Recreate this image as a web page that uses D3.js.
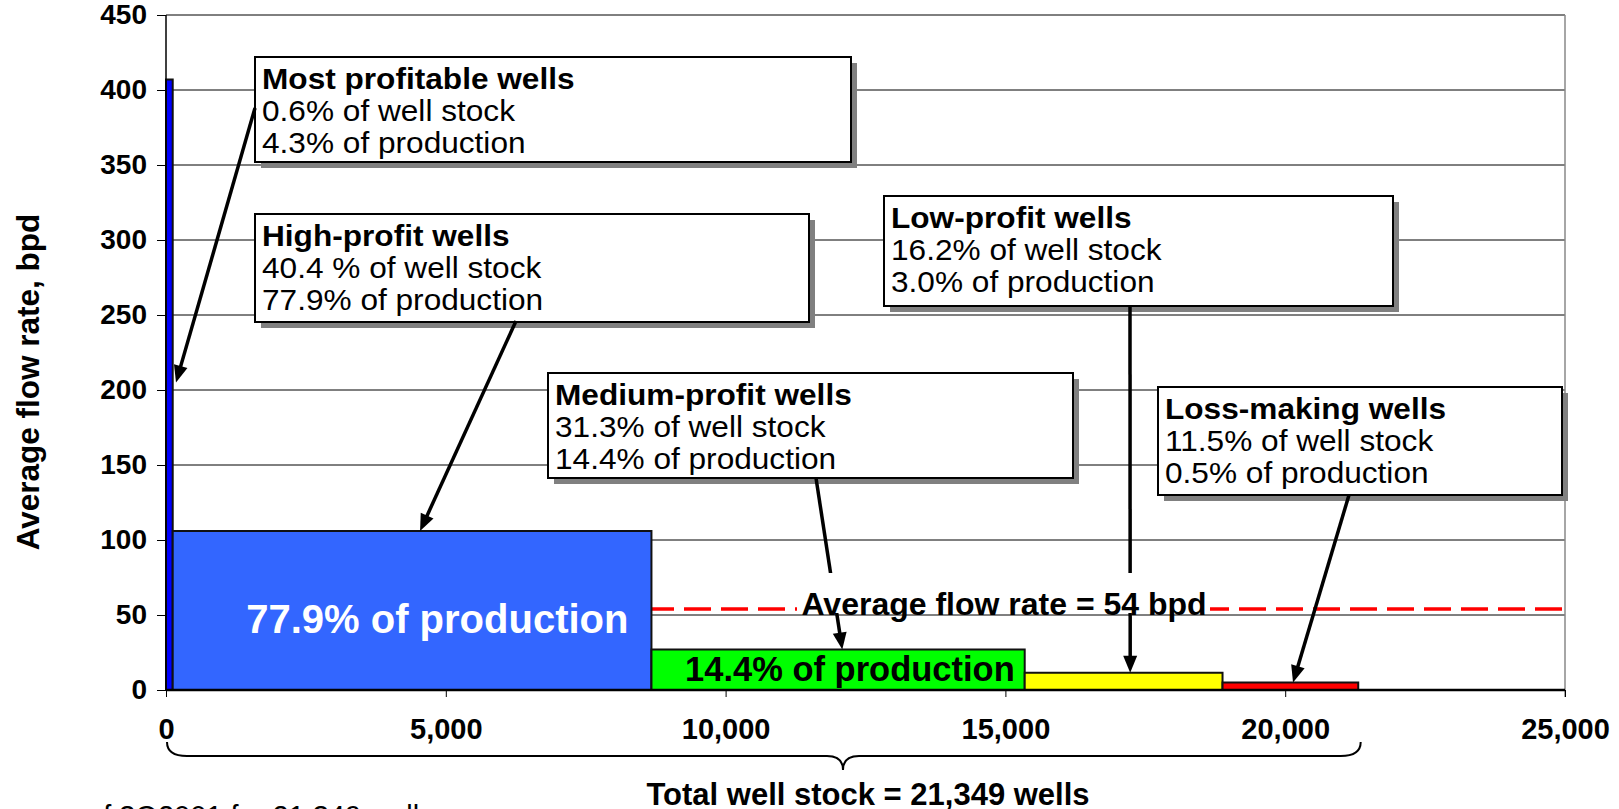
<!DOCTYPE html>
<html>
<head>
<meta charset="utf-8">
<script src="https://cdn.jsdelivr.net/npm/d3@7"></script>
<style>
  body { margin: 0; background: #fff; }
  svg { display: block; font-family: "Liberation Sans", Arial, sans-serif; }
</style>
</head>
<body>
<div class="container"></div>
<script>
// Data
const categories = ["Most profitable wells", "High-profit wells", "Medium-profit wells", "Low-profit wells", "Loss-making wells"];
const wellCounts = [120, 8555, 6670, 3535, 2425];
const flowRates = [407, 106, 27, 11.5, 5];
const stockShares = ["0.6% of well stock", "40.4 % of well stock", "31.3% of well stock", "16.2% of well stock", "11.5% of well stock"];
const productionShares = ["4.3% of production", "77.9% of production", "14.4% of production", "3.0% of production", "0.5% of production"];
const inBarLabels = ["", "77.9% of production", "14.4% of production", "", ""];
const averageRate = 54;
const totalWells = 21349;
const xTicks = [0, 5000, 10000, 15000, 20000, 25000];
const yTicks = [0, 50, 100, 150, 200, 250, 300, 350, 400, 450];

// Styles
const barColors = ["#0000ff", "#3366ff", "#00ff00", "#ffff00", "#ff0000"];

// Layout of the callout boxes (pixels) and where their arrows point (data units)
const boxLayout = [
  { x: 255, y: 57, w: 596, h: 105, from: [255, 108], tipWells: 179, tipRate: 205 },
  { x: 255, y: 214, w: 554, h: 108, from: [516, 321], tipWells: 4540, tipRate: null },
  { x: 548, y: 373, w: 525, h: 105, from: [816, 478], tipWells: 12085, tipRate: null },
  { x: 884, y: 196, w: 509, h: 110, from: [1130, 306], tipWells: 17230, tipRate: null },
  { x: 1158, y: 387, w: 404, h: 108, from: [1349, 495], tipWells: 20140, tipRate: null }
];

const width = 1619;
const height = 809;

const x = d3.scaleLinear().domain([0, 25000]).range([166, 1565]);
const y = d3.scaleLinear().domain([0, 450]).range([690, 15]);

const svg = d3.select(".container").append("svg")
    .attr("width", width)
    .attr("height", height);

// gridlines
svg.append("g")
  .selectAll("line")
  .data(yTicks.slice(1))
  .enter().append("line")
    .attr("x1", x(0)).attr("x2", x(25000))
    .attr("y1", d => y(d)).attr("y2", d => y(d))
    .attr("stroke", "#000").attr("stroke-width", 1);

// right border
svg.append("line")
    .attr("x1", x(25000)).attr("x2", x(25000))
    .attr("y1", y(450)).attr("y2", y(0) + 7)
    .attr("stroke", "#888").attr("stroke-width", 1.5);

// average flow rate
svg.append("line")
    .attr("x1", x(0)).attr("x2", x(25000))
    .attr("y1", y(averageRate)).attr("y2", y(averageRate))
    .attr("stroke", "#ff0000").attr("stroke-width", 3.5)
    .attr("stroke-dasharray", "27,10");

// bars
const starts = [0].concat(Array.from(d3.cumsum(wellCounts)).slice(0, -1));
const bars = categories.map((c, i) => ({ name: c, x0: starts[i], x1: starts[i] + wellCounts[i], rate: flowRates[i], i: i }));

svg.append("g")
  .selectAll("rect")
  .data(bars)
  .enter().append("rect")
    .attr("x", d => x(d.x0))
    .attr("y", d => y(d.rate))
    .attr("width", d => x(d.x1) - x(d.x0))
    .attr("height", d => y(0) - y(d.rate))
    .attr("fill", d => barColors[d.i])
    .attr("stroke", "#111")
    .attr("stroke-width", 2);

// axes lines
svg.append("line")
    .attr("x1", x(0)).attr("x2", x(0))
    .attr("y1", y(450)).attr("y2", y(0))
    .attr("stroke", "#000").attr("stroke-width", 1.5);
svg.append("line")
    .attr("x1", x(0)).attr("x2", x(25000))
    .attr("y1", y(0)).attr("y2", y(0))
    .attr("stroke", "#000").attr("stroke-width", 2.5);

// y axis
const yAxis = svg.append("g")
    .attr("transform", `translate(${x(0)},0)`)
    .call(d3.axisLeft(y).tickValues(yTicks).tickSize(9).tickPadding(10));
yAxis.select(".domain").remove();
yAxis.selectAll("line").attr("stroke", "#000").attr("stroke-width", 1);
yAxis.selectAll("text")
    .attr("font-family", "Liberation Sans, Arial, sans-serif")
    .attr("font-size", 28).attr("font-weight", "bold").attr("fill", "#000");

// x axis
const xAxis = svg.append("g")
    .attr("transform", `translate(0,${y(0)})`)
    .call(d3.axisBottom(x).tickValues(xTicks).tickSize(7).tickPadding(21).tickFormat(d3.format(",")));
xAxis.select(".domain").remove();
xAxis.selectAll("line").attr("stroke", "#000").attr("stroke-width", 1);
xAxis.selectAll("text")
    .attr("font-family", "Liberation Sans, Arial, sans-serif")
    .attr("font-size", 29).attr("font-weight", "bold").attr("fill", "#000");

// axis titles
svg.append("text")
    .attr("transform", "translate(39,382) rotate(-90)")
    .attr("text-anchor", "middle")
    .attr("font-size", 31.5).attr("font-weight", "bold")
    .text("Average flow rate, bpd");

svg.append("text")
    .attr("x", 868).attr("y", 805)
    .attr("text-anchor", "middle")
    .attr("font-size", 31).attr("font-weight", "bold")
    .text("Total well stock = " + d3.format(",")(totalWells) + " wells");

// cut-off source note at the bottom edge
svg.append("text")
    .attr("x", 87).attr("y", 826)
    .attr("font-size", 29)
    .text("of 3Q2001 for " + d3.format(",")(totalWells) + " wells");

// brace under the x axis
const bx0 = x(0) + 1, bx1 = x(totalWells), bmid = 843, bTop = 742, bLine = 756, bPeak = 770;
svg.append("path")
    .attr("d", `M${bx0},${bTop} Q${bx0},${bLine} ${bx0 + 20},${bLine} L${bmid - 16},${bLine} Q${bmid},${bLine} ${bmid},${bPeak} Q${bmid},${bLine} ${bmid + 16},${bLine} L${bx1 - 20},${bLine} Q${bx1},${bLine} ${bx1},${bTop}`)
    .attr("fill", "none").attr("stroke", "#000").attr("stroke-width", 2);

// callout boxes
const boxes = svg.append("g").selectAll("g")
  .data(boxLayout)
  .enter().append("g");

boxes.append("rect")
    .attr("x", d => d.x + 6).attr("y", d => d.y + 6)
    .attr("width", d => d.w).attr("height", d => d.h)
    .attr("fill", "#808080");
boxes.append("rect")
    .attr("x", d => d.x).attr("y", d => d.y)
    .attr("width", d => d.w).attr("height", d => d.h)
    .attr("fill", "#fff").attr("stroke", "#000").attr("stroke-width", 2);

boxes.each(function(d, i) {
  const g = d3.select(this);
  const lines = [categories[i], stockShares[i], productionShares[i]];
  lines.forEach((t, k) => {
    g.append("text")
        .attr("transform", `translate(${d.x + 7},${d.y + 31.5 + k * 32}) scale(1.09,1)`)
        .attr("font-size", 29)
        .attr("font-weight", k === 0 ? "bold" : "normal")
        .text(t);
  });
});

// arrows
boxLayout.forEach((d, i) => {
  const tx = x(d.tipWells);
  const ty = y(d.tipRate === null ? flowRates[i] : d.tipRate);
  const [fx, fy] = d.from;
  const len = Math.hypot(tx - fx, ty - fy);
  const ux = (tx - fx) / len, uy = (ty - fy) / len;
  const px = -uy, py = ux;
  svg.append("line")
      .attr("x1", fx).attr("y1", fy)
      .attr("x2", tx - ux * 10).attr("y2", ty - uy * 10)
      .attr("stroke", "#000").attr("stroke-width", 3.5);
  const bxp = tx - ux * 17, byp = ty - uy * 17;
  svg.append("path")
      .attr("d", `M${tx},${ty} L${bxp + px * 7},${byp + py * 7} L${bxp - px * 7},${byp - py * 7} Z`)
      .attr("fill", "#000");
});

// average label
svg.append("rect")
    .attr("x", 797).attr("y", 573)
    .attr("width", 413).attr("height", 40)
    .attr("fill", "#fff");
svg.append("text")
    .attr("x", 1004).attr("y", y(averageRate) + 6)
    .attr("text-anchor", "middle")
    .attr("font-size", 32).attr("font-weight", "bold")
    .text("Average flow rate = " + averageRate + " bpd");

// labels inside bars
const inBarStyle = [null, { size: 40, pad: 23, fill: "#fff", base: 633 }, { size: 34.5, pad: 10, fill: "#000", base: 681 }, null, null];
bars.forEach((d, i) => {
  if (!inBarLabels[i]) return;
  const s = inBarStyle[i];
  svg.append("text")
      .attr("x", x(d.x1) - s.pad).attr("y", s.base)
      .attr("text-anchor", "end")
      .attr("font-size", s.size).attr("font-weight", "bold")
      .attr("fill", s.fill)
      .text(inBarLabels[i]);
});
</script>
</body>
</html>
